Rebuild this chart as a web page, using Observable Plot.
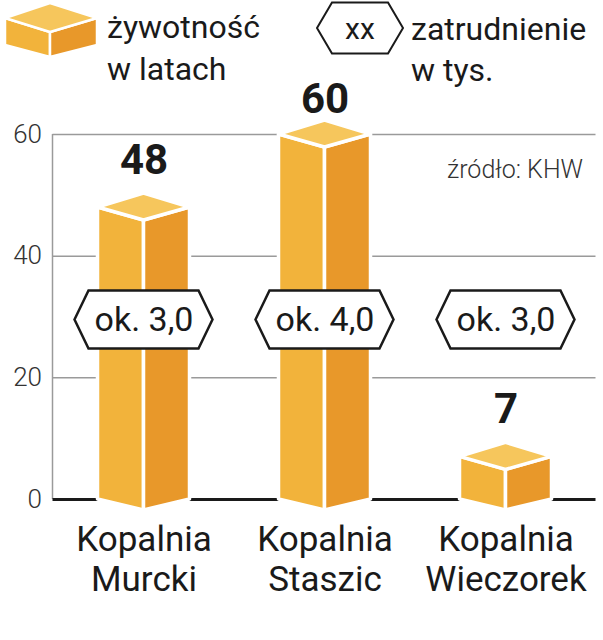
<!DOCTYPE html>
<html><head><meta charset="utf-8">
<script src="https://cdn.jsdelivr.net/npm/d3@7"></script>
<script src="https://cdn.jsdelivr.net/npm/@observablehq/plot@0.6"></script>
<style>
body{margin:0;background:#fff;}
#wrap{position:relative;width:603px;height:640px;font-family:Roboto,sans-serif;}
#legend{position:absolute;left:0;top:0;pointer-events:none;}
</style></head><body><div id="wrap"></div>
<script>
// ---- data ----
const mines = ["Kopalnia Murcki", "Kopalnia Staszic", "Kopalnia Wieczorek"];
const lifespanYears = [48, 60, 7];          // żywotność w latach
const employmentThousands = [3.0, 4.0, 3.0]; // zatrudnienie w tys.
const yTicks = [0, 20, 40, 60];
const gridTicks = [20, 40, 60];
const sourceNote = "źródło: KHW";
const legendLifespan = ["żywotność", "w latach"];
const legendEmployment = ["zatrudnienie", "w tys."];
const legendHexText = "xx";

const data = mines.map((name, i) => ({name, value: lifespanYears[i], emp: employmentThousands[i]}));

// ---- styling ----
const C = {left: "#F2B33B", right: "#E8982A", top: "#F6C65C", ink: "#1a1a1a", grid: "#9a9a9a"};
const HALF = 46, DROP = 13, RISE = 14, BOTTOM = 11, EMP_Y = 29.5;
const HEX_W = 138, HEX_H = 58, HEX_IND = 14;

function hexPts(cx, cy, w, h, ind) {
  return [[cx - w/2, cy], [cx - w/2 + ind, cy - h/2], [cx + w/2 - ind, cy - h/2],
          [cx + w/2, cy], [cx + w/2 - ind, cy + h/2], [cx - w/2 + ind, cy + h/2]];
}
const pstr = pts => pts.map(p => p.join(",")).join(" ");

function axisLine(index, scales, values, dims) {
  const g = d3.create("svg:g");
  g.append("line").attr("x1", dims.marginLeft).attr("x2", dims.marginLeft)
    .attr("y1", scales.y(60)).attr("y2", scales.y(0))
    .attr("stroke", C.grid).attr("stroke-width", 1.5);
  return g.node();
}

function boxes(index, scales) {
  const g = d3.create("svg:g");
  const bw = scales.x.bandwidth ? scales.x.bandwidth() : 0;
  const y0 = scales.y(0);
  for (const d of data) {
    const xc = scales.x(d.name) + bw/2, yt = scales.y(d.value);
    const faces = [
      [C.left, [[xc - HALF, yt], [xc, yt + DROP], [xc, y0 + BOTTOM], [xc - HALF, y0]]],
      [C.right, [[xc, yt + DROP], [xc + HALF, yt], [xc + HALF, y0], [xc, y0 + BOTTOM]]],
      [C.top, [[xc - HALF, yt], [xc, yt - RISE], [xc + HALF, yt], [xc, yt + DROP]]]
    ];
    for (const [fill, pts] of faces) {
      g.append("polygon").attr("points", pstr(pts)).attr("fill", fill)
        .attr("stroke", "#fff").attr("stroke-width", 3.5).attr("stroke-linejoin", "round");
    }
  }
  return g.node();
}

function hexes(index, scales) {
  const g = d3.create("svg:g");
  const bw = scales.x.bandwidth ? scales.x.bandwidth() : 0;
  for (const d of data) {
    const xc = scales.x(d.name) + bw/2, yc = scales.y(EMP_Y);
    g.append("polygon").attr("points", pstr(hexPts(xc, yc, HEX_W, HEX_H, HEX_IND)))
      .attr("fill", "#fff").attr("stroke", C.ink).attr("stroke-width", 2.5);
  }
  return g.node();
}

const chart = Plot.plot({
  width: 603,
  height: 640,
  marginTop: 134,
  marginBottom: 141,
  marginLeft: 52.5,
  marginRight: 7.5,
  style: {fontFamily: "Roboto, sans-serif", background: "#fff", color: C.ink, overflow: "visible"},
  x: {type: "band", domain: mines, padding: 0},
  y: {domain: [0, 60]},
  marks: [
    Plot.gridY(gridTicks, {stroke: C.grid, strokeOpacity: 1, strokeWidth: 1.5}),
    axisLine,
    Plot.ruleY([0], {stroke: C.ink, strokeWidth: 3}),
    Plot.axisY(yTicks, {tickSize: 0, tickPadding: 11, fontSize: 26, fontWeight: 300, fill: "#333", label: null}),
    Plot.axisX({tickSize: 0, tickPadding: 23, fontSize: 35, lineHeight: 1.15, fill: C.ink, label: null,
      tickFormat: d => d.replace(" ", "\n")}),
    boxes,
    hexes,
    Plot.text(data, {x: "name", y: () => EMP_Y, text: d => "ok. " + d.emp.toFixed(1).replace(".", ","),
      fontSize: 34, fill: C.ink}),
    Plot.text(data, {x: "name", y: d => Math.min(d.value + 5.5, 63.5), text: d => String(d.value),
      fontSize: 42, fontWeight: 700, fill: C.ink, lineAnchor: "bottom"}),
    Plot.text([sourceNote], {frameAnchor: "top-right", textAnchor: "end", dx: -13, dy: 26,
      fontSize: 25, fontWeight: 300, fill: "#333"})
  ]
});

const wrap = document.getElementById("wrap");
wrap.appendChild(chart);

// ---- legend (overlaid at the top) ----
const leg = d3.create("svg").attr("id", "legend").attr("width", 603).attr("height", 100)
  .style("font-family", "Roboto, sans-serif");
const lg = leg.append("g");
const lb = [
  [C.left, [[5, 18], [50, 32], [50, 57], [5, 45]]],
  [C.right, [[50, 32], [97, 18], [97, 45], [50, 57]]],
  [C.top, [[5, 18], [50, 3], [97, 18], [50, 32]]]
];
for (const [fill, pts] of lb) {
  lg.append("polygon").attr("points", pstr(pts)).attr("fill", fill)
    .attr("stroke", "#fff").attr("stroke-width", 2.5).attr("stroke-linejoin", "round");
}
legendLifespan.forEach((t, i) => lg.append("text").attr("x", 107).attr("y", 38 + i * 42)
  .attr("font-size", 32).attr("fill", C.ink).text(t));
lg.append("polygon").attr("points", pstr(hexPts(360, 28, 86, 51, 15)))
  .attr("fill", "#fff").attr("stroke", C.ink).attr("stroke-width", 2);
lg.append("text").attr("x", 360).attr("y", 28).attr("dy", "0.35em").attr("text-anchor", "middle")
  .attr("font-size", 30).attr("fill", C.ink).text(legendHexText);
legendEmployment.forEach((t, i) => lg.append("text").attr("x", 411).attr("y", 40 + i * 41)
  .attr("font-size", 32).attr("fill", C.ink).text(t));
wrap.appendChild(leg.node());
</script></body></html>
